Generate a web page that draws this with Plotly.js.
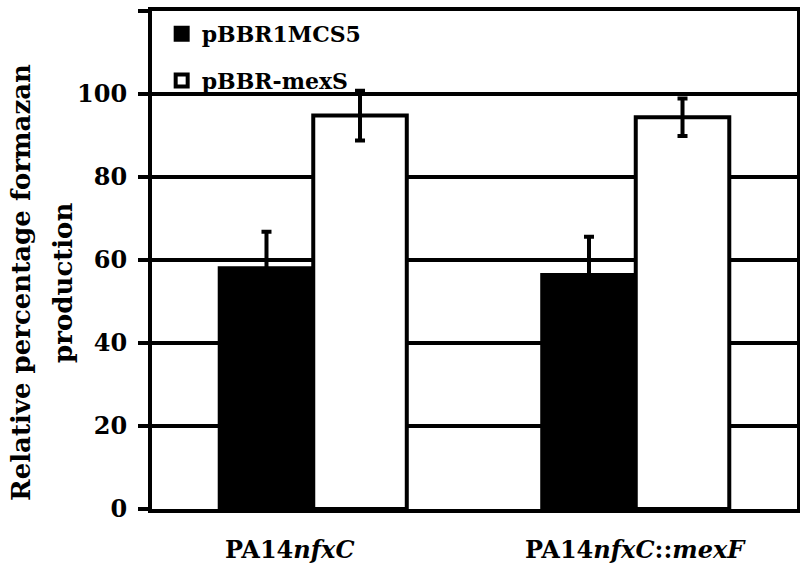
<!DOCTYPE html>
<html>
<head>
<meta charset="utf-8">
<script src="https://cdn.plot.ly/plotly-3.0.1.min.js"></script>
<style>
  html, body { margin: 0; padding: 0; background: #ffffff; }
  #chart { width: 800px; height: 564px; }
</style>
</head>
<body>
<div id="chart"></div>
<script>
// ---- data ----
const categories = ["PA14nfxC", "PA14nfxC::mexF"];
const categoryLabels = ["PA14<i>nfxC</i>", "PA14<i>nfxC</i>::<i>mexF</i>"];
const seriesNames = ["pBBR1MCS5", "pBBR-mexS"];
const emptyVectorValues = [58.0, 56.4];
const emptyVectorErrors = [8.8, 9.2];
const mexSValues = [94.8, 94.4];
const mexSErrors = [6.0, 4.5];
const yTickValues = [0, 20, 40, 60, 80, 100, 120];
const yTitleLines = ["Relative percentage formazan", "production"];

const serif = "DejaVu Serif";

const traces = [
  {
    type: "bar",
    name: seriesNames[0],
    legendgroup: "a",
    x: categories,
    y: emptyVectorValues,
    marker: { color: "#000000", line: { color: "#000000", width: 4 } },
    error_y: { type: "data", array: emptyVectorErrors, visible: true,
               color: "#000000", thickness: 4, width: 5 }
  },
  {
    type: "bar",
    name: seriesNames[1],
    legendgroup: "b",
    x: categories,
    y: mexSValues,
    marker: { color: "#ffffff", line: { color: "#000000", width: 4 } },
    error_y: { type: "data", array: mexSErrors, visible: true,
               color: "#000000", thickness: 4, width: 5 }
  }
];

const labelShift = [-23, 0];
const annotations = categories.map((c, i) => ({
  x: c, xref: "x", y: 0, yref: "paper",
  yanchor: "top", xanchor: "center",
  yshift: -24, xshift: labelShift[i],
  showarrow: false,
  text: categoryLabels[i],
  font: { family: serif, size: 24, color: "#000000", weight: "bold" }
}));
const titleShift = [-131, -89];
yTitleLines.forEach((line, i) => {
  annotations.push({
    x: 0, xref: "paper", y: 0.454, yref: "paper",
    xanchor: "center", yanchor: "middle", xshift: titleShift[i],
    textangle: -90, showarrow: false,
    text: line,
    font: { family: serif, size: 26, color: "#000000", weight: "bold" }
  });
});

const layout = {
  width: 800, height: 564,
  margin: { l: 152, r: 3, t: 11, b: 55, pad: 0 },
  paper_bgcolor: "#ffffff", plot_bgcolor: "#ffffff",
  font: { family: serif, color: "#000000" },
  barmode: "group", bargap: 0.42, bargroupgap: 0,
  showlegend: true,
  legend: {
    x: 0.015, xanchor: "left", y: 0.996, yanchor: "top",
    bgcolor: "rgba(0,0,0,0)", borderwidth: 0,
    tracegroupgap: 15,
    font: { family: serif, size: 22, color: "#000000", weight: "bold" }
  },
  xaxis: {
    type: "category",
    showticklabels: false,
    ticks: "",
    showgrid: false,
    showline: true, linecolor: "#000000", linewidth: 4, mirror: true,
    zeroline: false, fixedrange: true
  },
  yaxis: {
    range: [0, 120],
    tickvals: yTickValues,
    ticks: "outside", ticklen: 10, tickwidth: 4, tickcolor: "#000000",
    ticklabelstandoff: 6,
    tickfont: { family: serif, size: 24, color: "#000000", weight: "bold" },
    showgrid: true, gridcolor: "#000000", gridwidth: 4,
    showline: true, linecolor: "#000000", linewidth: 4, mirror: true,
    zeroline: false, fixedrange: true
  },
  annotations: annotations
};

Plotly.newPlot("chart", traces, layout, { displayModeBar: false, staticPlot: true });
</script>
</body>
</html>
